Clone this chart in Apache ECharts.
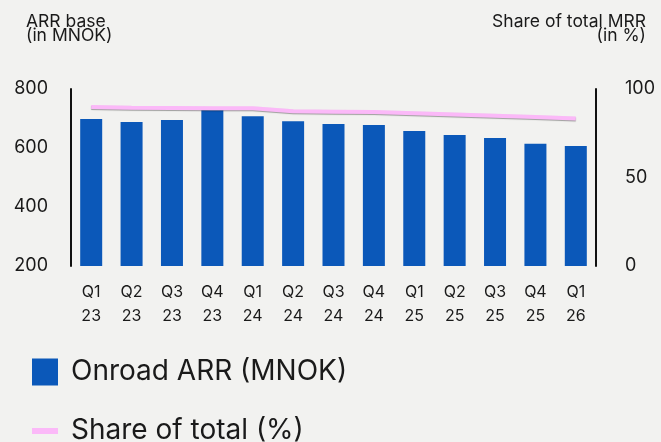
<!DOCTYPE html>
<html>
<head>
<meta charset="utf-8">
<script src="https://cdn.jsdelivr.net/npm/echarts@6/dist/echarts.min.js"></script>
<style>
  html, body { margin: 0; padding: 0; background: #f2f2f0; }
  #main { width: 661px; height: 442px; }
</style>
</head>
<body>
<div id="main"></div>
<script>
// quarters on the x axis
const quarters = ['Q1\n23', 'Q2\n23', 'Q3\n23', 'Q4\n23', 'Q1\n24', 'Q2\n24', 'Q3\n24',
                  'Q4\n24', 'Q1\n25', 'Q2\n25', 'Q3\n25', 'Q4\n25', 'Q1\n26'];
// Onroad ARR in MNOK (left axis)
const arrValues = [698, 688, 695, 728, 708, 691, 681, 678, 658, 644, 634, 614, 607];
// share of total MRR in % (right axis)
const shareValues = [89.8, 89.4, 89.3, 89.1, 89.1, 87.4, 87.2, 87.0, 86.3, 85.6, 84.9, 84.2, 83.4];

const font = 'Inter';
const txt = '#1a1a1a';
const titleText = { fontFamily: font, fontSize: 17.5, fontWeight: 'normal', color: txt, lineHeight: 14 };
const legendText = { fontFamily: font, fontSize: 28, color: txt, padding: [0, 0, 0, 8] };

var myChart = echarts.init(document.getElementById('main'));
var option = {
  backgroundColor: '#f2f2f0',
  textStyle: { fontFamily: font },
  title: [
    { text: 'ARR base\n(in MNOK)', left: 21, top: 10, textStyle: titleText },
    // right side: one title per line so both lines end at the same x
    { text: 'Share of total MRR', right: 10, top: 10, textStyle: titleText },
    { text: '(in %)', right: 10, top: 24, textStyle: titleText }
  ],
  // two legends so the second entry is not wrapped into another column
  legend: [
    {
      left: 27, top: 353,
      itemWidth: 26, itemHeight: 27,
      textStyle: legendText,
      data: [{ name: 'Onroad ARR (MNOK)', icon: 'rect' }]
    },
    {
      left: 27, top: 412,
      itemWidth: 26, itemHeight: 27,
      textStyle: legendText,
      data: [{ name: 'Share of total (%)', icon: 'path://M0,0 L26,0 L26,6 L0,6 Z' }]
    }
  ],
  grid: { left: 71, right: 65, top: 89, bottom: 176 },
  xAxis: {
    type: 'category',
    data: quarters,
    axisLine: { show: false },
    axisTick: { show: false },
    axisLabel: { interval: 0, margin: 14, fontFamily: font, fontSize: 16, color: txt, lineHeight: 24 }
  },
  yAxis: [
    {
      type: 'value', min: 200, max: 800, interval: 200,
      axisLine: { show: true, lineStyle: { color: '#111', width: 2 } },
      axisTick: { show: false },
      splitLine: { show: false },
      axisLabel: { margin: 23, fontFamily: font, fontSize: 18, color: txt }
    },
    {
      type: 'value', min: 0, max: 100, interval: 50,
      axisLine: { show: true, lineStyle: { color: '#111', width: 2 } },
      axisTick: { show: false },
      splitLine: { show: false },
      axisLabel: { margin: 29, fontFamily: font, fontSize: 18, color: txt }
    }
  ],
  series: [
    {
      name: 'Onroad ARR (MNOK)',
      type: 'bar',
      yAxisIndex: 0,
      barWidth: 22,
      itemStyle: { color: '#0b58b9' },
      data: arrValues
    },
    {
      name: 'Share of total (%)',
      type: 'line',
      yAxisIndex: 1,
      symbol: 'none',
      itemStyle: { color: '#fbb9f8' },
      lineStyle: { color: '#fbb9f8', width: 4, shadowColor: 'rgba(0,0,0,0.35)', shadowBlur: 1, shadowOffsetY: 1 },
      data: shareValues
    }
  ]
};
myChart.setOption(option);
</script>
</body>
</html>
